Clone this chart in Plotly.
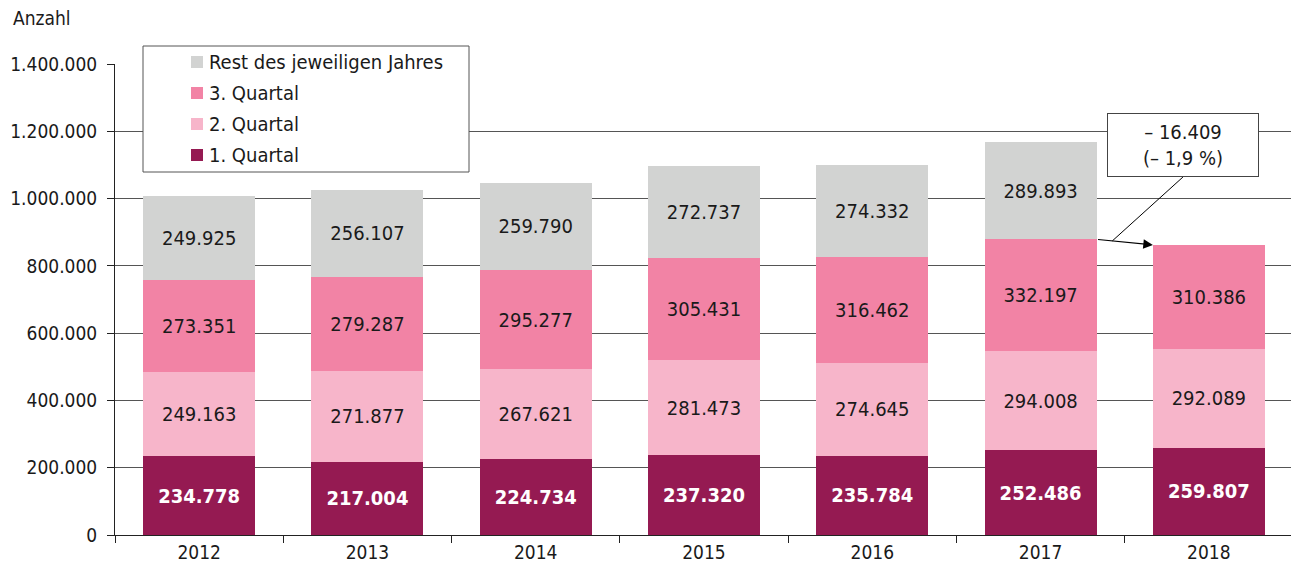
import plotly.graph_objects as go

years = ["2012", "2013", "2014", "2015", "2016", "2017", "2018"]
q1 = [234778, 217004, 224734, 237320, 235784, 252486, 259807]
q2 = [249163, 271877, 267621, 281473, 274645, 294008, 292089]
q3 = [273351, 279287, 295277, 305431, 316462, 332197, 310386]
rest = [249925, 256107, 259790, 272737, 274332, 289893, None]

names = ["1. Quartal", "2. Quartal", "3. Quartal", "Rest des jeweiligen Jahres"]
colors = ["#951A52", "#F7B5CA", "#F283A5", "#D2D3D2"]
series = [q1, q2, q3, rest]

FONT = "DejaVu Sans Condensed, Roboto, sans-serif"
TXT = "#1a1a1a"

# page offset (browser body margin) and plot geometry in page pixels
OFF = 8
PL, PR, PT, PB = 115, 1293, 64, 535
W, H = 1299 - OFF, 572 - OFF
PW, PH = PR - PL, PB - PT


def px(x):
    return (x - PL) / PW


def py(y):
    return (PB - y) / PH


fig = go.Figure()
for name, col, vals in zip(names, colors, series):
    is_q1 = name == "1. Quartal"
    fig.add_trace(go.Bar(
        x=years, y=vals, name=name, marker=dict(color=col, line=dict(width=0)),
        width=0.665, showlegend=False,
        texttemplate="%{y:,d}", textposition="inside", insidetextanchor="middle",
        textangle=0, constraintext="none",
        textfont=dict(family=FONT, size=20, color="white" if is_q1 else TXT,
                      weight="bold" if is_q1 else "normal"),
        hoverinfo="skip",
    ))

# legend (drawn as box + squares + labels, top entry = last series)
fig.add_shape(type="rect", xref="paper", yref="paper", x0=px(143), x1=px(469),
              y0=py(172), y1=py(46), fillcolor="white", line=dict(color="#555", width=1),
              layer="above")
for i, (name, col) in enumerate(zip(names[::-1], colors[::-1])):
    yc = 62 + i * 31
    fig.add_shape(type="rect", xref="paper", yref="paper", x0=px(191), x1=px(203),
                  y0=py(yc + 6), y1=py(yc - 6), fillcolor=col, line=dict(width=0),
                  layer="above")
    fig.add_annotation(x=px(207), y=py(yc), xref="paper", yref="paper", text=name,
                       showarrow=False, xanchor="left", yanchor="middle",
                       font=dict(family=FONT, size=20, color=TXT))

# change 2017 -> 2018 (first three quarters)
s2017 = q1[5] + q2[5] + q3[5]
s2018 = q1[6] + q2[6] + q3[6]
diff = s2018 - s2017
pct = diff / s2017 * 100


def de(n):
    return f"{abs(n):,}".replace(",", ".")


label = f"– {de(diff)}<br>(– {str(round(abs(pct), 1)).replace('.', ',')} %)"

half = 0.665 / 2
tail_x, head_x = 5 + half, 6 - half
fig.add_annotation(x=head_x, y=s2018, ax=tail_x, ay=s2017, xref="x", yref="y",
                   axref="x", ayref="y", text="", showarrow=True, arrowhead=2,
                   arrowsize=1.6, arrowwidth=1.2, arrowcolor="black", standoff=0)
mid_x = tail_x + (head_x - tail_x) * 0.28
mid_y = s2017 + (s2018 - s2017) * 0.28
box_x, box_y = 5.846, 1160000
fig.add_shape(type="line", x0=mid_x, y0=mid_y, x1=box_x, y1=1064000,
              xref="x", yref="y", line=dict(color="black", width=1))
fig.add_annotation(x=box_x, y=box_y, xref="x", yref="y", text=label,
                   showarrow=False, font=dict(family=FONT, size=20, color=TXT),
                   bgcolor="white", bordercolor="#444", borderwidth=1,
                   borderpad=6, width=138, align="center")

fig.add_annotation(x=px(11), y=py(18), xref="paper", yref="paper",
                   text="Anzahl", showarrow=False, xanchor="left", yanchor="middle",
                   font=dict(family=FONT, size=19, color=TXT))

fig.update_layout(
    width=W, height=H,
    margin=dict(l=PL - OFF, r=W - (PR - OFF), t=PT - OFF, b=H - (PB - OFF), autoexpand=False),
    barmode="stack", bargap=0.335,
    separators=",.",
    plot_bgcolor="white", paper_bgcolor="white",
    font=dict(family=FONT, size=19, color=TXT),
    showlegend=False,
    xaxis=dict(type="category", showline=True, linecolor="#222", linewidth=1,
               ticks="outside", tickson="boundaries", ticklen=7, tickcolor="#222",
               tickfont=dict(family=FONT, size=19, color=TXT), showgrid=False,
               automargin=False),
    yaxis=dict(range=[0, 1400000], dtick=200000, tickformat=",d",
               showline=True, linecolor="#222", linewidth=1,
               ticks="outside", ticklen=7, tickcolor="#222", ticklabelstandoff=6,
               showgrid=True, gridcolor="#555", gridwidth=1, automargin=False,
               zeroline=False, tickfont=dict(family=FONT, size=19, color=TXT)),
)

fig.write_html("out.html")
